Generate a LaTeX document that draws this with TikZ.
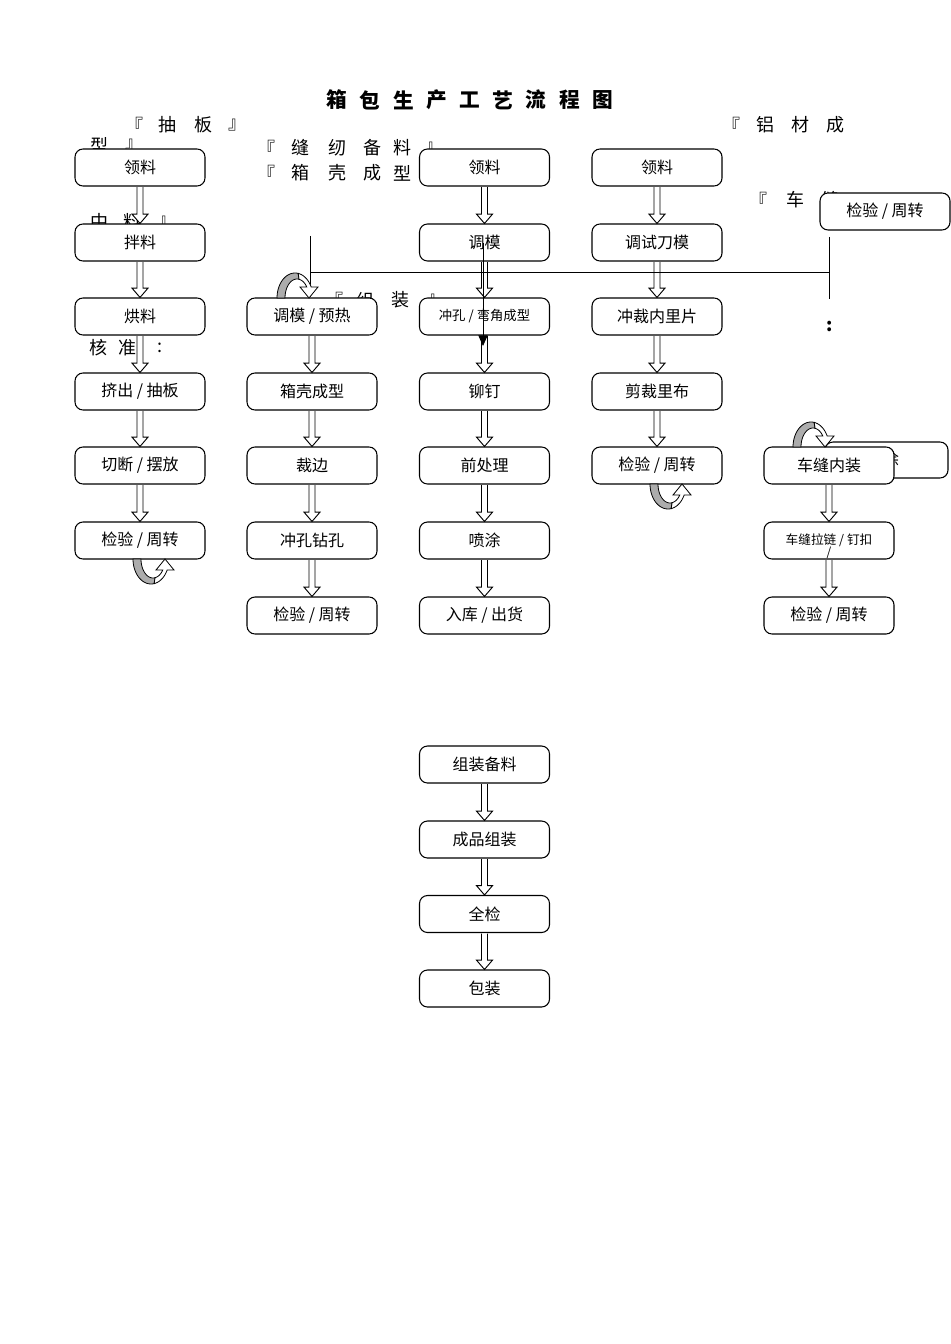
\documentclass[tikz,border=0pt]{standalone}
\usepackage{fontspec}
\setmainfont{Noto Sans CJK SC}
\usetikzlibrary{calc,arrows.meta}
\tikzset{
  box/.style={draw, line width=0.8pt, fill=white, rounded corners=6pt,
    minimum width=97.5pt, minimum height=27.75pt, inner sep=0pt,
    font=\fontsize{12}{14}\selectfont},
  smallbox/.style={box, font=\fontsize{10}{12}\selectfont},
  tinybox/.style={box, font=\fontsize{9.5}{11}\selectfont},
  bg/.style={inner sep=0pt, font=\fontsize{13.5}{15}\selectfont},
  ttl/.style={inner sep=0pt, font=\fontsize{15.5}{17}\selectfont\bfseries},
  harrow/.style={draw, line width=0.7pt, fill=white},
  thinline/.style={line width=0.6pt},
  uturn/.pic={
    \filldraw[fill=gray!65, line width=0.6pt]
      plot[domain=180:280,samples=20] ({18+18*cos(\x)},{25*sin(\x)})
      -- plot[domain=280:180,samples=20] ({20+12*cos(\x)},{19*sin(\x)}) -- cycle;
    \filldraw[fill=white, line width=0.6pt]
      plot[domain=280:334,samples=15] ({18+18*cos(\x)},{25*sin(\x)})
      -- (41,-11) -- (32,0) -- (23,-11)
      -- plot[domain=324.6:280,samples=15] ({20+12*cos(\x)},{19*sin(\x)}) -- cycle;
  }
}
\newcommand\hollowarr[2]{%
  \path[harrow] let \p1=(#1.south), \p2=(#2.north) in
    (\x1-2.25pt,\y1-0.4pt) -- (\x1-2.25pt,\y2+7pt) -- (\x1-6pt,\y2+7pt) -- (\x1,\y2)
    -- (\x1+6pt,\y2+7pt) -- (\x1+2.25pt,\y2+7pt) -- (\x1+2.25pt,\y1-0.4pt);}
\begin{document}
\begin{tikzpicture}[x=0.75pt,y=-0.75pt]
\useasboundingbox (0,0) rectangle (950,1344);
% title
\foreach \c [count=\i] in {箱,包,生,产,工,艺,流,程,图}
  \node[ttl] (t\i) at ({337+33.2*(\i-1)},100) {\c};
% background section labels (partly hidden)
\foreach \px/\c [count=\i] in {134/『,167/抽,203/板,237/』}
  \node[bg] (la\i) at (\px,125) {\c};
\foreach \px/\c [count=\i] in {731/『,765/铝,800/材,835/成}
  \node[bg] (lb\i) at (\px,125) {\c};
\foreach \px/\c [count=\i] in {99/型,134/』}
  \node[bg] (lc\i) at (\px,145) {\c};
\foreach \px/\c [count=\i] in {266/『,300/缝,337/纫,372/备,402/料,434/』}
  \node[bg] (ld\i) at (\px,148) {\c};
\foreach \px/\c [count=\i] in {266/『,300/箱,337/壳,372/成,402/型}
  \node[bg] (le\i) at (\px,173) {\c};
\foreach \px/\c [count=\i] in {758/『,795/车,830/缝}
  \node[bg] (lf\i) at (\px,200) {\c};
\foreach \px/\c [count=\i] in {99/中,132/料,167/』}
  \node[bg] (lg\i) at (\px,222) {\c};
\foreach \px/\c [count=\i] in {334/『,365/组,400/装,436/』}
  \node[bg] (lh\i) at (\px,300) {\c};
\foreach \px/\c [count=\i] in {98/核,127/准,160/:}
  \node[bg] (li\i) at (\px,348) {\c};
\node[bg, font=\fontsize{13.5}{15}\selectfont\bfseries] (lj) at (830,326) {:};
% column 1
\node[box] (a1) at (140,167.5) {领料};
\node[box] (a2) at (140,242.5) {拌料};
\node[box] (a3) at (140,316.5) {烘料};
\node[box] (a4) at (140,391.5) {挤出 / 抽板};
\node[box] (a5) at (140,465.5) {切断 / 摆放};
\node[box] (a6) at (140,540.5) {检验 / 周转};
% column 2
\node[box] (b3) at (312,316.5) {调模 / 预热};
\node[box] (b4) at (312,391.5) {箱壳成型};
\node[box] (b5) at (312,465.5) {裁边};
\node[box] (b6) at (312,540.5) {冲孔钻孔};
\node[box] (b7) at (312,615.5) {检验 / 周转};
% column 3
\node[box] (c1) at (484.5,167.5) {领料};
\node[box] (c2) at (484.5,242.5) {调模};
\node[smallbox] (c3) at (484.5,316.5) {冲孔 / 弯角成型};
\node[box] (c4) at (484.5,391.5) {铆钉};
\node[box] (c5) at (484.5,465.5) {前处理};
\node[box] (c6) at (484.5,540.5) {喷涂};
\node[box] (c7) at (484.5,615.5) {入库 / 出货};
% column 4
\node[box] (d1) at (657,167.5) {领料};
\node[box] (d2) at (657,242.5) {调试刀模};
\node[box] (d3) at (657,316.5) {冲裁内里片};
\node[box] (d4) at (657,391.5) {剪裁里布};
\node[box] (d5) at (657,465.5) {检验 / 周转};
% column 5
\node[box] (e1) at (885,211.5) {检验 / 周转};
\node[box, minimum width=92.25pt, minimum height=27pt] (e0) at (886.5,460) {};
\node[bg, font=\fontsize{12}{14}\selectfont] (e0t) at (891,459) {涂};
\node[box] (e5) at (829,465.5) {车缝内装};
\node[tinybox] (e6) at (829,540.5) {\raisebox{2pt}{车缝拉链 / 钉扣}};
\node[box] (e7) at (829,615.5) {检验 / 周转};
% bottom column
\node[box] (f1) at (484.5,764.5) {组装备料};
\node[box] (f2) at (484.5,839.5) {成品组装};
\node[box] (f3) at (484.5,914) {全检};
\node[box] (f4) at (484.5,988.5) {包装};
% hollow arrows
\foreach \u/\v in {a1/a2,a2/a3,a3/a4,a4/a5,a5/a6,
                   b3/b4,b4/b5,b5/b6,b6/b7,
                   c1/c2,c2/c3,c3/c4,c4/c5,c5/c6,c6/c7,
                   d1/d2,d2/d3,d3/d4,d4/d5,
                   e5/e6,e6/e7,
                   f1/f2,f2/f3,f3/f4}
  \hollowarr{\u}{\v};
\node[inner sep=0pt, font=\fontsize{9}{10}\selectfont] (e6s) at (829,553) {/};
% thin connectors
\coordinate (p1) at (310,236);
\coordinate (p2) at (310,272);
\coordinate (p3) at (829,272);
\coordinate (p4) at (829,237);
\coordinate (p5) at (829,299);
\draw[thinline] (p1) -- (p2) -- (p3);
\draw[thinline] (p2) -- (b3.north -| p2);
\draw[thinline] (p4) -- (p5);
\coordinate (q1) at (483,243);
\coordinate (q2) at (483,346);
\draw[thinline, -{Triangle[length=8pt,width=7pt]}] (q1) -- (q2);
% U-turn arrows
\pic at (277,298) {uturn};
\pic at (793,447) {uturn};
\pic[yscale=-1] at (133,559) {uturn};
\pic[yscale=-1] at (650,484) {uturn};
\end{tikzpicture}
\end{document}
